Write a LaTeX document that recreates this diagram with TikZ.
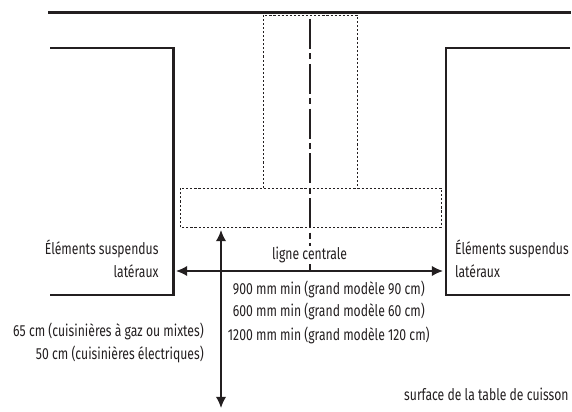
\documentclass[tikz,border=0pt]{standalone}
\usepackage{fontspec}
\setmainfont[FakeStretch=0.76]{Fira Sans}
\usetikzlibrary{arrows.meta}
\definecolor{ink}{HTML}{231F20}
\tikzset{
    wall/.style={ink,line width=1.6pt},
    hidden/.style={ink,line width=0.6pt,dash pattern=on 1.5pt off 1.4pt},
    axisline/.style={ink,line width=0.75pt,dash pattern=on 0.75cm off 0.11cm on 0.15cm off 0.11cm},
    dimline/.style={ink,line width=1.1pt,{Latex[length=0.28cm,width=0.26cm]}-{Latex[length=0.28cm,width=0.26cm]}},
    lbl/.style={text=ink,font=\fontsize{11.4}{13}\selectfont,inner sep=0pt}
}
\begin{document}
\begin{tikzpicture}
    \useasboundingbox (0,0) rectangle (14.3,10.275);
    \draw[wall] (1.2,9.96) -- (14.275,9.96);
    \draw[wall] (1.25,9.075) -- (4.34,9.075) -- (4.34,2.9) -- (1.25,2.9);
    \draw[wall] (14.25,9.075) -- (11.15,9.075) -- (11.15,2.9) -- (14.25,2.9);
    \draw[hidden] (6.575,5.575) -- (6.575,9.9) -- (8.925,9.9) -- (8.925,5.575);
    \draw[hidden] (4.51,4.6) rectangle (11.025,5.575);

    \coordinate (axistop) at (7.75,9.8);
    \coordinate (axisbot) at (7.75,3.5);
    \coordinate (hleft) at (4.4,3.5);
    \coordinate (hright) at (11.075,3.5);
    \coordinate (vtop) at (5.525,4.525);
    \coordinate (vbot) at (5.525,0.075);
    \draw[axisline] (axistop) -- (axisbot);
    \draw[dimline] (hleft) -- (hright);
    \draw[dimline] (vtop) -- (vbot);

    \node[lbl,fill=white,inner ysep=1pt] (central) at (7.74,3.9) {ligne centrale};
    \node[lbl,anchor=east] (leftA) at (3.97,4.05) {Éléments suspendus};
    \node[lbl,anchor=east] (leftB) at (3.97,3.5) {latéraux};
    \node[lbl,anchor=west] (rightA) at (11.37,4.05) {Éléments suspendus};
    \node[lbl,anchor=west] (rightB) at (11.37,3.5) {latéraux};
    \node[lbl] (w900) at (8.22,3.05) {900 mm min (grand modèle 90 cm)};
    \node[lbl] (w600) at (8.22,2.5) {600 mm min (grand modèle 60 cm)};
    \node[lbl] (w1200) at (8.22,1.9) {1200 mm min (grand modèle 120 cm)};
    \node[lbl,anchor=east] (gas) at (5.1,2) {65 cm (cuisinières à gaz ou mixtes)};
    \node[lbl,anchor=east] (elec) at (5.1,1.425) {50 cm (cuisinières électriques)};
    \node[lbl,anchor=east] (surface) at (14.22,0.42) {surface de la table de cuisson};
\end{tikzpicture}
\end{document}
